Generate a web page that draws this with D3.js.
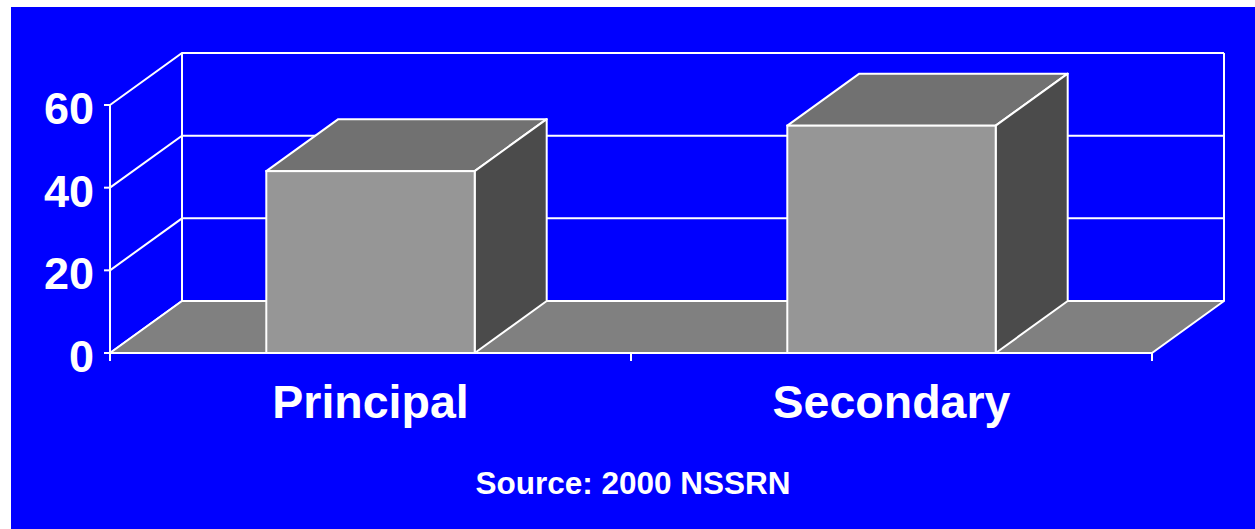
<!DOCTYPE html>
<html>
<head>
<meta charset="utf-8">
<script src="https://cdn.jsdelivr.net/npm/d3@7"></script>
<style>
  html, body { margin: 0; padding: 0; background: #ffffff; }
  svg { display: block; }
  text { font-family: "Liberation Sans", Arial, sans-serif; font-weight: bold; fill: #ffffff; }
</style>
</head>
<body>
<svg id="chart" width="1255" height="529"></svg>
<script>
// Chart data
const categories = ["Principal", "Secondary"];
const values = [44, 55];
const yTicks = [0, 20, 40, 60];
const sourceNote = "Source: 2000 NSSRN";

const svg = d3.select("#chart");
const W = 1255, H = 529;

// Blue panel
svg.append("rect").attr("x", 11).attr("y", 7).attr("width", W - 11).attr("height", H - 7).attr("fill", "#0000ff");

// Front plane geometry and depth offset for the 3-D look
const x0 = 110, x1 = 1152;
const depth = { dx: 72, dy: -52 };

const y = d3.scaleLinear().domain([0, 60]).range([353, 105]);
const x = d3.scaleBand().domain(categories).range([x0, x1]).padding(0);
const barFrac = 0.4;

const line = (pts) => d3.line()(pts);
const stroke = "#ffffff";

const walls = svg.append("g");

// Back wall gridlines and left side wall diagonals
yTicks.forEach(t => {
  const yy = y(t);
  walls.append("path")
    .attr("d", line([[x0, yy], [x0 + depth.dx, yy + depth.dy], [x1 + depth.dx, yy + depth.dy]]))
    .attr("fill", "none").attr("stroke", stroke).attr("stroke-width", 2);
});
// Back wall verticals
[x0 + depth.dx, x1 + depth.dx].forEach(xx => {
  walls.append("line")
    .attr("x1", xx).attr("x2", xx)
    .attr("y1", y(60) + depth.dy).attr("y2", y(0) + depth.dy)
    .attr("stroke", stroke).attr("stroke-width", 2);
});

// Floor
walls.append("path")
  .attr("d", line([[x0, y(0)], [x1, y(0)], [x1 + depth.dx, y(0) + depth.dy], [x0 + depth.dx, y(0) + depth.dy]]) + "Z")
  .attr("fill", "#808080").attr("stroke", stroke).attr("stroke-width", 2).attr("stroke-linejoin", "round");

// Y axis (front left edge) with ticks
const axisG = svg.append("g");
axisG.append("line").attr("x1", x0).attr("x2", x0).attr("y1", y(60)).attr("y2", y(0) + 8)
  .attr("stroke", stroke).attr("stroke-width", 2);
yTicks.forEach(t => {
  axisG.append("line").attr("x1", x0 - 6).attr("x2", x0).attr("y1", y(t)).attr("y2", y(t))
    .attr("stroke", stroke).attr("stroke-width", 2);
  axisG.append("text")
    .attr("x", 94).attr("y", y(t) + 19)
    .attr("text-anchor", "end")
    .attr("font-size", 45)
    .text(t);
});

// X axis with category boundary ticks
axisG.append("line").attr("x1", x0 - 6).attr("x2", x1).attr("y1", y(0)).attr("y2", y(0))
  .attr("stroke", stroke).attr("stroke-width", 2);
[x0, (x0 + x1) / 2, x1].forEach(xx => {
  axisG.append("line").attr("x1", xx).attr("x2", xx).attr("y1", y(0)).attr("y2", y(0) + 8)
    .attr("stroke", stroke).attr("stroke-width", 2);
});

// 3-D bars
const bars = svg.append("g");
categories.forEach((c, i) => {
  const bw = x.bandwidth() * barFrac;
  const bl = x(c) + (x.bandwidth() - bw) / 2;
  const br = bl + bw;
  const top = y(values[i]);
  const bot = y(0);
  const g = bars.append("g");
  // top face
  g.append("path")
    .attr("d", line([[bl, top], [br, top], [br + depth.dx, top + depth.dy], [bl + depth.dx, top + depth.dy]]) + "Z")
    .attr("fill", "#717171").attr("stroke", stroke).attr("stroke-width", 2).attr("stroke-linejoin", "round");
  // side face
  g.append("path")
    .attr("d", line([[br, top], [br + depth.dx, top + depth.dy], [br + depth.dx, bot + depth.dy], [br, bot]]) + "Z")
    .attr("fill", "#4b4b4b").attr("stroke", stroke).attr("stroke-width", 2).attr("stroke-linejoin", "round");
  // front face
  g.append("rect")
    .attr("x", bl).attr("y", top).attr("width", bw).attr("height", bot - top)
    .attr("fill", "#969696").attr("stroke", stroke).attr("stroke-width", 2);
});

// Category labels
svg.append("g").selectAll("text")
  .data(categories)
  .join("text")
  .attr("x", d => x(d) + x.bandwidth() / 2)
  .attr("y", 418)
  .attr("text-anchor", "middle")
  .attr("font-size", 46.5)
  .text(d => d);

// Source note
svg.append("text")
  .attr("x", 633).attr("y", 494)
  .attr("text-anchor", "middle")
  .attr("font-size", 31.5)
  .text(sourceNote);
</script>
</body>
</html>
